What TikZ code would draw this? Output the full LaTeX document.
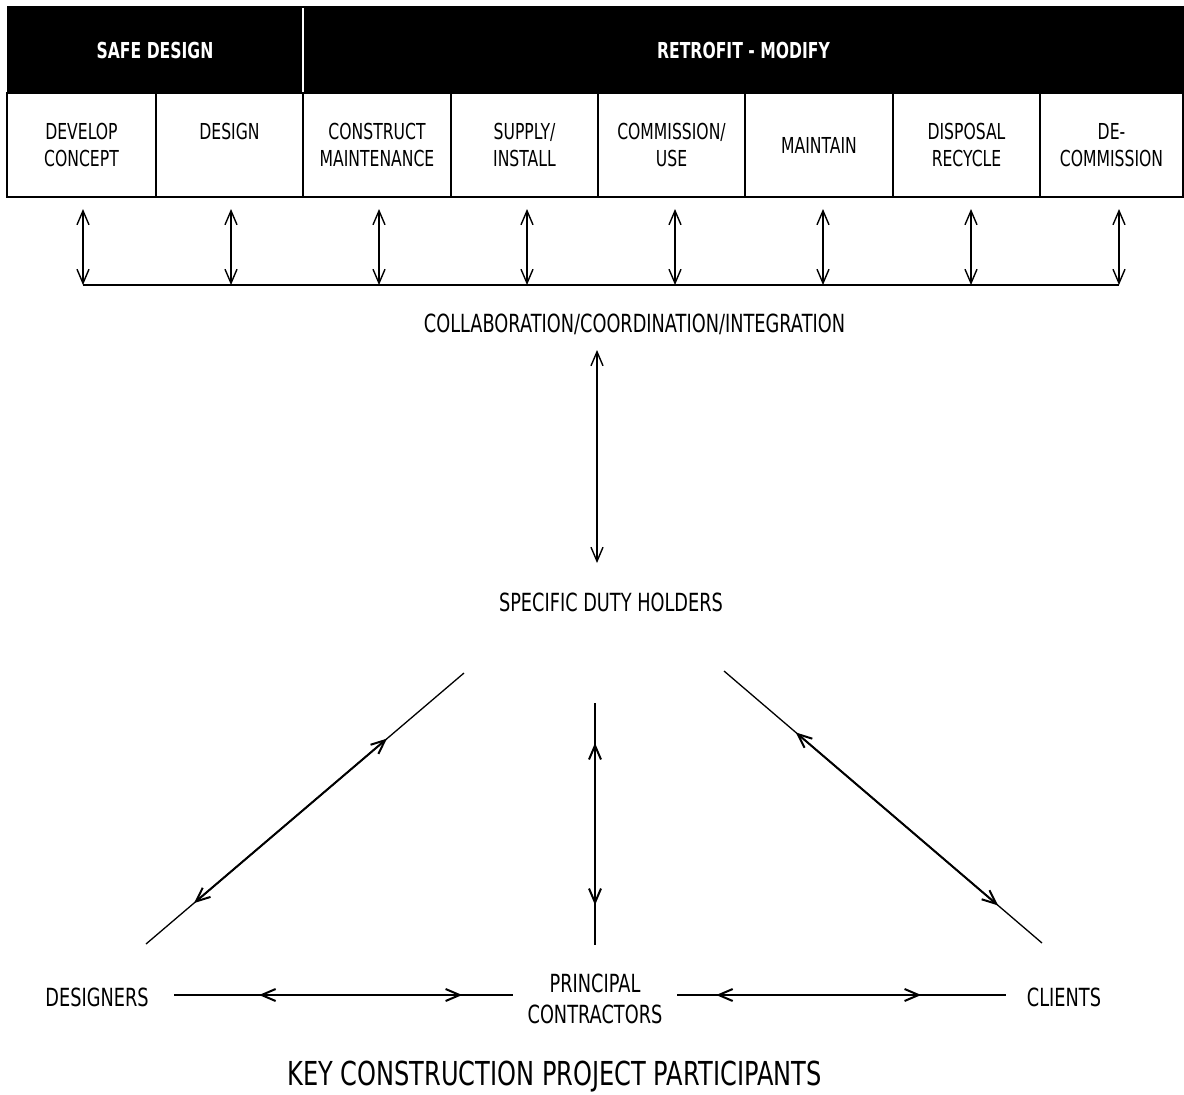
\documentclass[tikz,border=0pt]{standalone}
\usepackage{fontspec}
\setmainfont[FakeStretch=0.71]{DejaVu Sans}
\newfontfamily\keyfont[FakeStretch=0.73]{DejaVu Sans}
\usetikzlibrary{arrows.meta,calc}
\begin{document}
\begin{tikzpicture}[x=1pt,y=-1pt,
  >={Straight Barb[length=14pt,width=12pt]},
  hdr/.style={fill=black, text=white, inner sep=0pt, outer sep=0pt,
    minimum height=89pt, font=\bfseries\fontsize{22}{27}\selectfont},
  phase/.style={draw=black, line width=2pt, fill=white, align=center,
    inner sep=0pt, outer sep=0pt, minimum height=104pt,
    font=\fontsize{22}{27}\selectfont},
  lbl/.style={inner sep=0pt, align=center, font=\fontsize{25}{31}\selectfont},
  vert/.style={line width=1.4pt, <->},
  thinline/.style={line width=1.3pt},
  innerarrow/.style={line width=2pt, <->}
]
\useasboundingbox (0,0) rectangle (1184,1095);
\fill[white] (0,0) rectangle (1184,1095);

% header band
\node[hdr, minimum width=296pt] (safe) at (155,50.5) {SAFE DESIGN};
\node[hdr, minimum width=881pt] (retro) at (743.5,50.5) {RETROFIT - MODIFY};
\draw[white, line width=2pt] ($(safe.north east)+(0,2)$) -- ($(safe.south east)+(0,-3)$);

% phase boxes
\node[phase, minimum width=149pt] (p1) at (81.5,145) {DEVELOP\\CONCEPT};
\node[phase, minimum width=147pt] (p2) at (229.5,145) {DESIGN\\\mbox{}};
\node[phase, minimum width=148pt] (p3) at (377,145) {CONSTRUCT\\MAINTENANCE};
\node[phase, minimum width=147pt] (p4) at (524.5,145) {SUPPLY/\\INSTALL};
\node[phase, minimum width=147pt] (p5) at (671.5,145) {COMMISSION/\\USE};
\node[phase, minimum width=148pt] (p6) at (819,145) {MAINTAIN};
\node[phase, minimum width=147pt] (p7) at (966.5,145) {DISPOSAL\\RECYCLE};
\node[phase, minimum width=143pt] (p8) at (1111.5,145) {DE-\\COMMISSION};

% vertical arrows to the bus
\foreach \i [evaluate=\i as \x using 83+148*\i] in {0,...,7}{
  \coordinate (up\i) at (\x,209);
  \coordinate (bus\i) at (\x,285);
  \draw[vert] (up\i) -- (bus\i);
}
\draw[line width=2.5pt] (bus0) -- (bus7);

% collaboration
\node[lbl] (collab) at (634.5,324) {COLLABORATION/COORDINATION/INTEGRATION};
\coordinate (c1) at (597,350);
\coordinate (c2) at (597,563);
\draw[vert] (c1) -- (c2);
\node[lbl] (sdh) at (611,602) {SPECIFIC DUTY HOLDERS};

% participants
\node[lbl] (des) at (97,997) {DESIGNERS};
\node[lbl] (pc) at (595,998.5) {PRINCIPAL\\CONTRACTORS};
\node[lbl] (cli) at (1064,997) {CLIENTS};
\node[inner sep=0pt, font=\keyfont\fontsize{33}{40}\selectfont] (key) at (554.5,1077) {KEY CONSTRUCTION PROJECT PARTICIPANTS};

% left diagonal
\coordinate (dl1) at (464,673);
\coordinate (dl2) at (146,944);
\draw[thinline] (dl1) -- (dl2);
\draw[innerarrow] ($(dl1)!0.242!(dl2)$) -- ($(dl1)!0.849!(dl2)$);

% right diagonal
\coordinate (dr1) at (724,671);
\coordinate (dr2) at (1042,943);
\draw[thinline] (dr1) -- (dr2);
\draw[innerarrow] ($(dr1)!0.226!(dr2)$) -- ($(dr1)!0.862!(dr2)$);

% middle vertical
\coordinate (v1) at (595,703);
\coordinate (v2) at (595,945);
\draw[thinline] (v1) -- (v2);
\draw[innerarrow] ($(v1)!0.165!(v2)$) -- ($(v1)!0.835!(v2)$);

% bottom horizontals
\coordinate (h1) at (174,995);
\coordinate (h2) at (513,995);
\draw[thinline] (h1) -- (h2);
\draw[innerarrow] ($(h1)!0.251!(h2)$) -- ($(h1)!0.85!(h2)$);
\coordinate (h3) at (677,995);
\coordinate (h4) at (1006,995);
\draw[thinline] (h3) -- (h4);
\draw[innerarrow] ($(h3)!0.119!(h4)$) -- ($(h3)!0.742!(h4)$);
\end{tikzpicture}
\end{document}
